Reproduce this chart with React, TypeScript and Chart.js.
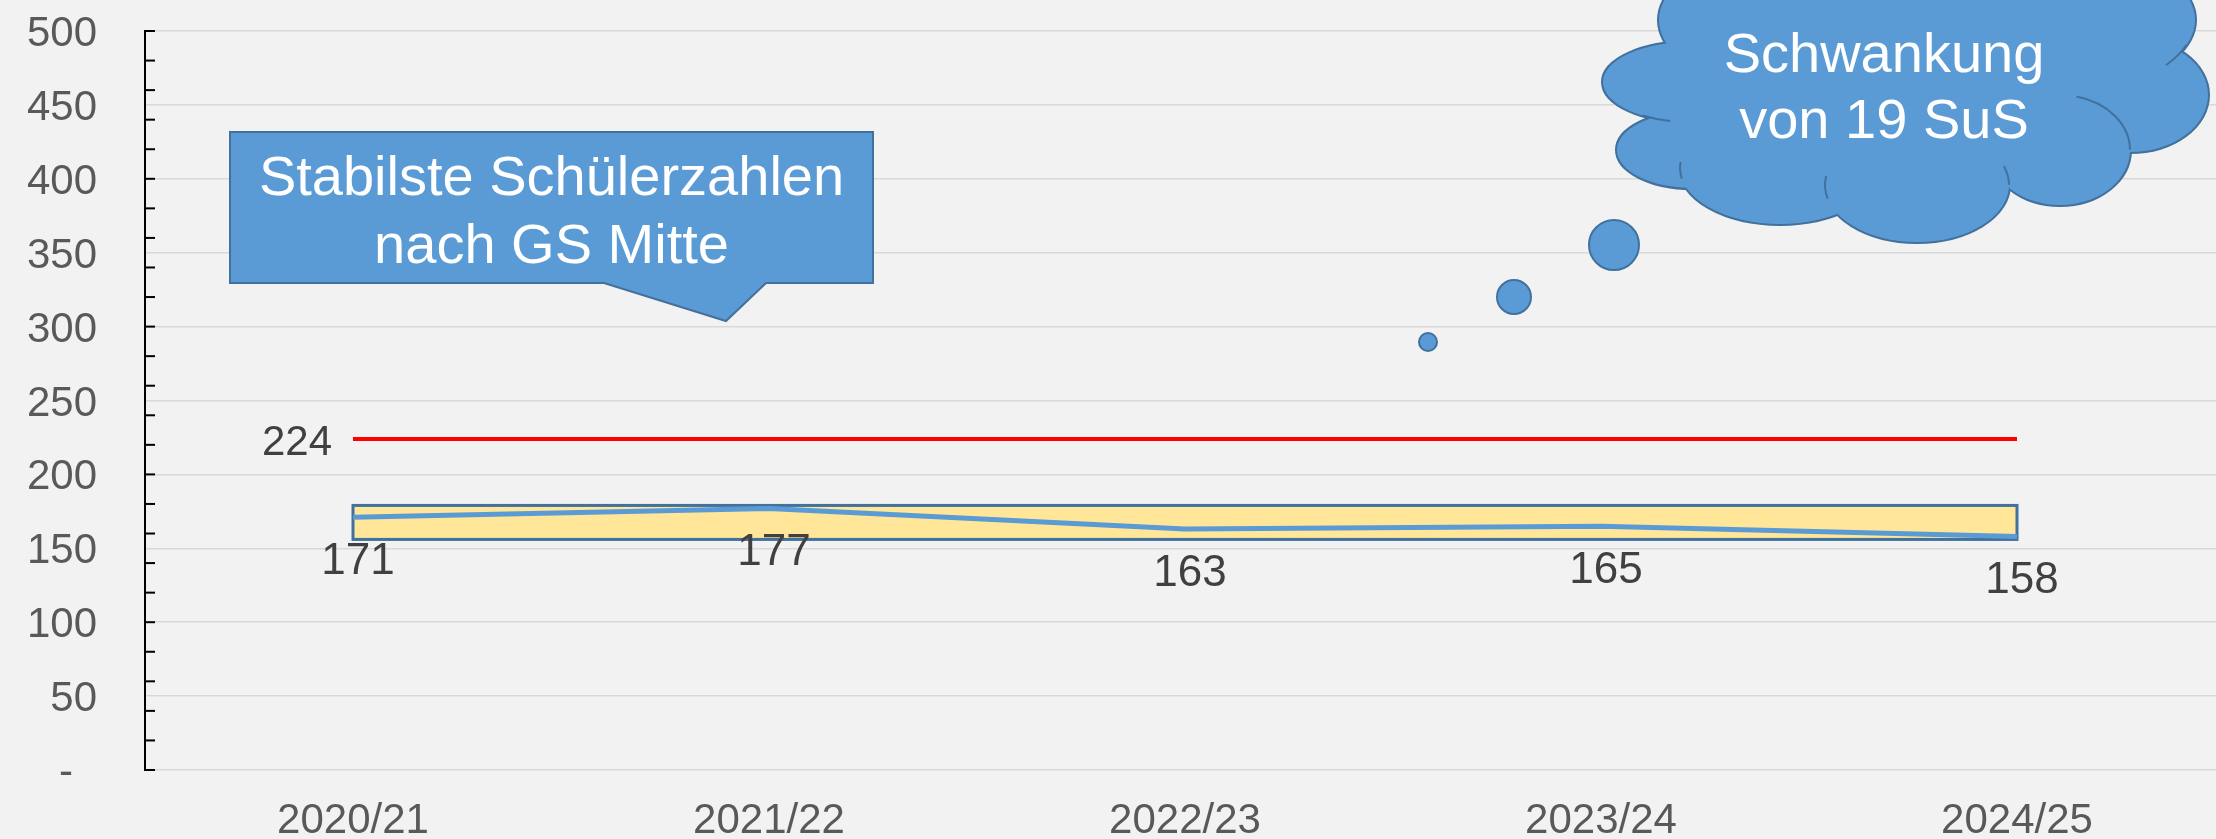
import { useEffect, useRef } from 'react';
import { Chart, registerables } from 'chart.js';

Chart.register(...registerables);

// ---- data ----
const SCHULJAHRE = ['2020/21', '2021/22', '2022/23', '2023/24', '2024/25'];
const SCHUELERZAHLEN = [171, 177, 163, 165, 158];
const DURCHSCHNITT = [224, 224, 224, 224, 224];
const DURCHSCHNITT_LABEL = '224';
const BAND_UNTEN = 156;
const BAND_OBEN = 179;
const Y_MIN = 0;
const Y_MAX = 500;
const Y_STEP = 50;
const Y_MINOR_STEP = 20;
const CALLOUT_LINES = ['Stabilste Schülerzahlen', 'nach GS Mitte'];
const CLOUD_LINES = ['Schwankung', 'von 19 SuS'];

const FONT = 'Arial, "Liberation Sans", sans-serif';
const BLUE = '#5B9BD5';
const DARK_BLUE = '#41719C';
const BG = '#F2F2F2';

const bgPlugin = {
  id: 'bg',
  beforeDraw(chart: any) {
    const { ctx, width, height } = chart;
    ctx.save();
    ctx.fillStyle = BG;
    ctx.fillRect(0, 0, width, height);
    ctx.restore();
  },
};

const bandPlugin = {
  id: 'band',
  beforeDatasetsDraw(chart: any) {
    const { ctx, scales } = chart;
    const x0 = scales.x.getPixelForValue(0);
    const x1 = scales.x.getPixelForValue(SCHULJAHRE.length - 1);
    const y0 = scales.y.getPixelForValue(BAND_OBEN);
    const y1 = scales.y.getPixelForValue(BAND_UNTEN);
    ctx.save();
    ctx.fillStyle = '#FFE699';
    ctx.fillRect(x0, y0, x1 - x0, y1 - y0);
    ctx.strokeStyle = DARK_BLUE;
    ctx.lineWidth = 3;
    ctx.strokeRect(x0, y0, x1 - x0, y1 - y0);
    ctx.restore();
  },
};

const axisPlugin = {
  id: 'axes',
  afterDatasetsDraw(chart: any) {
    const { ctx, chartArea, scales } = chart;
    const x = chartArea.left;
    ctx.save();
    ctx.strokeStyle = '#000000';
    ctx.lineWidth = 2;
    ctx.beginPath();
    ctx.moveTo(x, scales.y.getPixelForValue(Y_MAX) - 1);
    ctx.lineTo(x, scales.y.getPixelForValue(Y_MIN) + 1);
    ctx.stroke();
    for (let v = Y_MIN; v <= Y_MAX; v += Y_MINOR_STEP) {
      const y = scales.y.getPixelForValue(v);
      ctx.beginPath();
      ctx.moveTo(x, y);
      ctx.lineTo(x + 10, y);
      ctx.stroke();
    }
    // tick labels
    ctx.fillStyle = '#595959';
    ctx.font = `42px ${FONT}`;
    ctx.textBaseline = 'alphabetic';
    for (let v = Y_MIN; v <= Y_MAX; v += Y_STEP) {
      const y = scales.y.getPixelForValue(v);
      ctx.textAlign = 'right';
      if (v === 0) {
        ctx.fillText('-', x - 72, y + 15);
      } else {
        ctx.fillText(String(v), x - 48, y + 15);
      }
    }
    ctx.textAlign = 'center';
    SCHULJAHRE.forEach((lab, i) => {
      const px = scales.x.getPixelForValue(i);
      ctx.fillText(lab, px, chartArea.bottom + 63);
    });
    ctx.restore();
  },
};

const labelPlugin = {
  id: 'valuelabels',
  afterDatasetsDraw(chart: any) {
    const { ctx } = chart;
    ctx.save();
    ctx.fillStyle = '#404040';
    ctx.textAlign = 'center';
    ctx.textBaseline = 'alphabetic';
    ctx.font = `44px ${FONT}`;
    const meta0 = chart.getDatasetMeta(0);
    meta0.data.forEach((pt: any, i: number) => {
      ctx.fillText(String(SCHUELERZAHLEN[i]), pt.x + 5, pt.y + 57);
    });
    const meta1 = chart.getDatasetMeta(1);
    const p = meta1.data[0];
    ctx.font = `42px ${FONT}`;
    ctx.textAlign = 'right';
    ctx.fillText(DURCHSCHNITT_LABEL, p.x - 21, p.y + 16);
    ctx.restore();
  },
};

const annotationPlugin = {
  id: 'annotations',
  afterDraw(chart: any) {
    const { ctx } = chart;
    ctx.save();
    // Callout
    ctx.beginPath();
    ctx.moveTo(230, 132);
    ctx.lineTo(873, 132);
    ctx.lineTo(873, 283);
    ctx.lineTo(766, 283);
    ctx.lineTo(726, 321);
    ctx.lineTo(604, 283);
    ctx.lineTo(230, 283);
    ctx.closePath();
    ctx.fillStyle = BLUE;
    ctx.fill();
    ctx.strokeStyle = DARK_BLUE;
    ctx.lineWidth = 2;
    ctx.stroke();
    ctx.fillStyle = '#FFFFFF';
    ctx.font = `56px ${FONT}`;
    ctx.textAlign = 'center';
    ctx.textBaseline = 'alphabetic';
    ctx.fillText(CALLOUT_LINES[0], 551.5, 195);
    ctx.fillText(CALLOUT_LINES[1], 551.5, 263);

    // Cloud
    const lobes: number[][] = [
      [1927, 20, 268, 100],
      [1690, 82, 87, 40],
      [1692, 150, 75, 38],
      [1780, 168, 100, 56],
      [1917, 185, 92, 57],
      [2060, 150, 70, 55],
      [2130, 95, 78, 57],
      [1900, 110, 200, 90],
    ];
    ctx.strokeStyle = DARK_BLUE;
    ctx.lineWidth = 4;
    lobes.forEach((l) => {
      ctx.beginPath();
      ctx.ellipse(l[0], l[1], l[2], l[3], 0, 0, Math.PI * 2);
      ctx.stroke();
    });
    ctx.fillStyle = BLUE;
    lobes.forEach((l) => {
      ctx.beginPath();
      ctx.ellipse(l[0], l[1], l[2], l[3], 0, 0, Math.PI * 2);
      ctx.fill();
    });
    // inner crease arcs
    ctx.lineWidth = 2;
    const creases: number[][] = [
      [1690, 82, 87, 40, 1.8, 2.15],
      [1780, 168, 100, 56, 2.95, 3.25],
      [1917, 185, 92, 57, 2.9, 3.3],
      [1917, 185, 92, 57, 5.95, 6.28],
      [2060, 150, 70, 55, 4.95, 6.28],
      [1927, 20, 268, 100, 0.25, 0.47],
    ];
    creases.forEach((c) => {
      ctx.beginPath();
      ctx.ellipse(c[0], c[1], c[2], c[3], 0, c[4], c[5]);
      ctx.stroke();
    });
    // bubbles
    const bubbles: number[][] = [
      [1428, 342, 9],
      [1514, 297, 17],
      [1614, 245, 25],
    ];
    ctx.lineWidth = 2;
    bubbles.forEach((b) => {
      ctx.beginPath();
      ctx.arc(b[0], b[1], b[2], 0, Math.PI * 2);
      ctx.fill();
      ctx.stroke();
    });
    ctx.fillStyle = '#FFFFFF';
    ctx.font = `56px ${FONT}`;
    ctx.fillText(CLOUD_LINES[0], 1884, 72);
    ctx.fillText(CLOUD_LINES[1], 1884, 138);
    ctx.restore();
  },
};

export default function App() {
  const canvasRef = useRef<HTMLCanvasElement | null>(null);

  useEffect(() => {
    const canvas = canvasRef.current;
    if (!canvas) return;
    const chart = new Chart(canvas, {
      type: 'line',
      data: {
        labels: SCHULJAHRE,
        datasets: [
          {
            label: 'Schülerzahlen',
            data: SCHUELERZAHLEN,
            borderColor: BLUE,
            borderWidth: 5,
            pointRadius: 0,
            tension: 0,
            fill: false,
          },
          {
            label: 'Durchschnitt',
            data: DURCHSCHNITT,
            borderColor: '#FF0000',
            borderWidth: 4,
            pointRadius: 0,
            tension: 0,
            fill: false,
          },
        ],
      },
      options: {
        responsive: false,
        animation: false,
        devicePixelRatio: 1,
        layout: { padding: { top: 31, left: 145, right: 0, bottom: 69 } },
        plugins: {
          legend: { display: false },
          tooltip: { enabled: false },
        },
        scales: {
          x: {
            offset: true,
            grid: { display: false, drawTicks: false },
            border: { display: false },
            ticks: { display: false },
          },
          y: {
            min: Y_MIN,
            max: Y_MAX,
            grid: { color: '#D9D9D9', lineWidth: 1.5, drawTicks: false },
            border: { display: false },
            ticks: { display: false, stepSize: Y_STEP },
          },
        },
      },
      plugins: [bgPlugin, bandPlugin, axisPlugin, labelPlugin, annotationPlugin],
    });
    return () => chart.destroy();
  }, []);

  return (
    <div
      style={{
        position: 'fixed',
        left: 0,
        top: 0,
        width: 2216,
        height: 839,
        overflow: 'hidden',
        background: BG,
      }}
    >
      <canvas ref={canvasRef} width={2225} height={839} style={{ display: 'block' }} />
    </div>
  );
}
